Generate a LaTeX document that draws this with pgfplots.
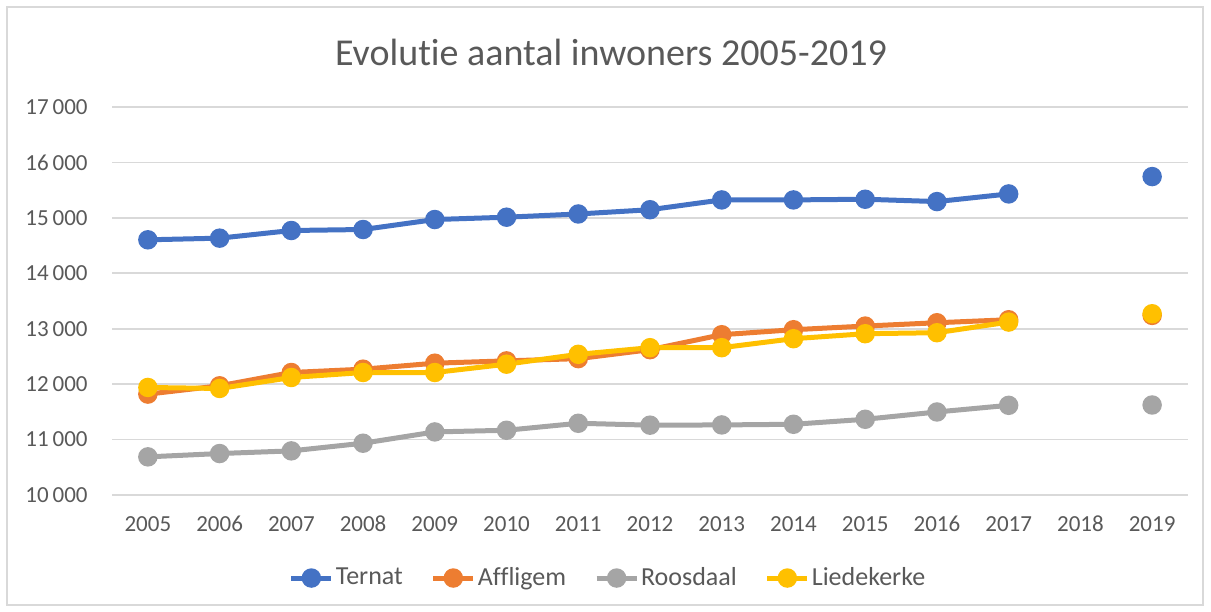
\documentclass[border=0pt]{standalone}
\usepackage{fontspec}
\setmainfont{Carlito}[Ligatures=NoCommon]
\usepackage{pgfplots}
\pgfplotsset{compat=1.18}
\usepackage{pgfplotstable}

\definecolor{ternat}{HTML}{4472C4}
\definecolor{affligem}{HTML}{ED7D31}
\definecolor{roosdaal}{HTML}{A5A5A5}
\definecolor{liedekerke}{HTML}{FFC000}
\definecolor{txt}{HTML}{595959}
\definecolor{gridc}{HTML}{D9D9D9}

% 2005..2019 op posities 0..14, 2018 ontbreekt
\pgfplotstableread{
x  ternat affligem roosdaal liedekerke
0  14604  11820    10688    11940
1  14634  11970    10748    11922
2  14772  12210    10796    12120
3  14790  12270    10934    12210
4  14970  12378    11138    12210
5  15012  12420    11168    12360
6  15070  12460    11294    12538
7  15147  12622    11260    12658
8  15324  12892    11264    12658
9  15324  12982    11276    12820
10 15336  13048    11366    12910
11 15294  13108    11498    12928
12 15432  13162    11618    13120
13 nan    nan      nan      nan
14 15745  13240    11624    13270
}\inwoners

\begin{document}
\begin{tikzpicture}
\useasboundingbox (0pt,0pt) rectangle (605.5pt,305.5pt);
\draw[draw=gridc, line width=0.6pt] (3.5pt,3pt) rectangle (601.5pt,302pt);
\node[text=txt, font=\fontsize{19}{22}\selectfont] at (305.5pt,279.5pt) {Evolutie aantal inwoners 2005-2019};
\begin{axis}[
	at={(56pt,58pt)}, anchor=south west,
	scale only axis, width=538pt, height=194pt,
	xmin=-0.5, xmax=14.5, ymin=10000, ymax=17000,
	xtick={0,...,14},
	xticklabels={2005,2006,2007,2008,2009,2010,2011,2012,2013,2014,2015,2016,2017,2018,2019},
	ytick={10000,11000,...,17000},
	scaled y ticks=false,
	ymajorgrids, grid style={draw=gridc, line width=0.8pt},
	axis line style={draw=none}, tick style={draw=none},
	tick label style={text=txt, font=\fontsize{11.5}{13}\selectfont},
	xticklabel style={anchor=base, yshift=-18.5pt},
	yticklabel style={anchor=east, inner sep=0pt, xshift=-12pt},
	/pgf/number format/.cd, 1000 sep={\,}, assume math mode=true,
	/pgfplots/.cd,
	unbounded coords=jump,
	every axis plot/.append style={line width=2.5pt, mark=*, mark size=3.6pt},
	legend columns=4,
	legend style={at={(0.461,-0.214)}, anchor=center, draw=none, fill=none,
		font=\fontsize{13}{15}\selectfont, text=txt,
		/tikz/every even column/.append style={column sep=13pt},
		nodes={inner sep=1pt}},
	legend image code/.code={\draw[mark repeat=2, mark phase=2, #1] plot coordinates {(0pt,0pt) (10pt,0pt) (20pt,0pt)};},
]
\addplot[color=ternat] table[x=x, y=ternat] {\inwoners};
\addlegendentry{Ternat}
\addplot[color=affligem] table[x=x, y=affligem] {\inwoners};
\addlegendentry{Affligem}
\addplot[color=roosdaal] table[x=x, y=roosdaal] {\inwoners};
\addlegendentry{Roosdaal}
\addplot[color=liedekerke] table[x=x, y=liedekerke] {\inwoners};
\addlegendentry{Liedekerke}
\end{axis}
\end{tikzpicture}
\end{document}
